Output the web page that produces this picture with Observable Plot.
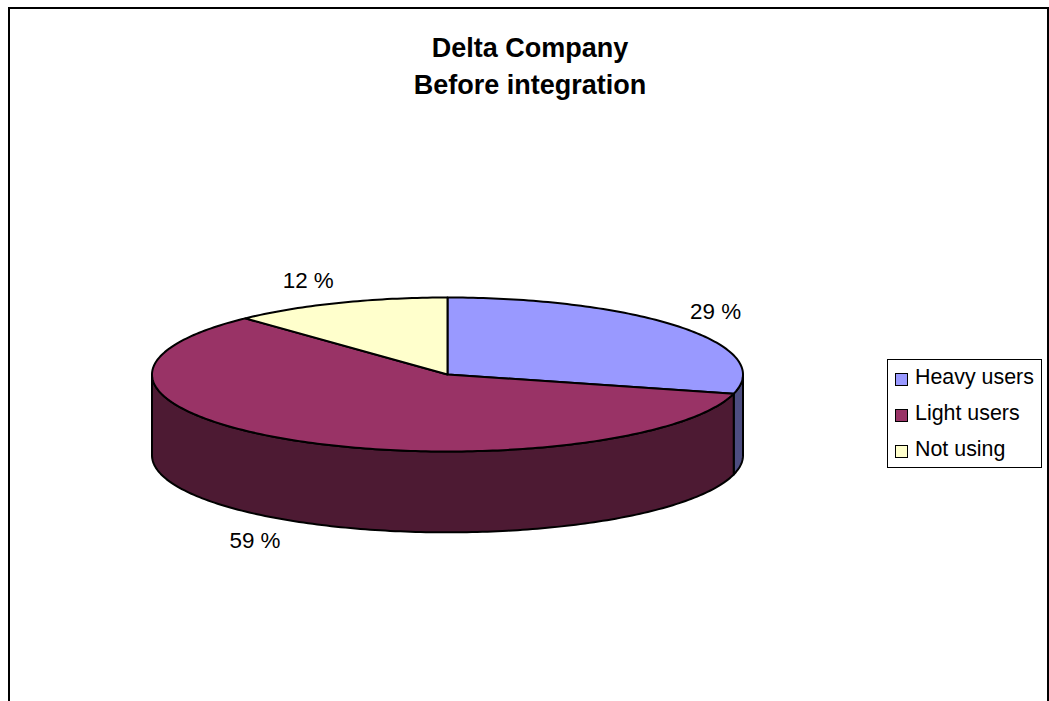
<!DOCTYPE html>
<html>
<head>
<meta charset="utf-8">
<script src="https://cdn.jsdelivr.net/npm/d3@7"></script>
<script src="https://cdn.jsdelivr.net/npm/@observablehq/plot@0.6"></script>
<style>
  html, body { margin: 0; padding: 0; background: #fff; }
  body { font-family: "Liberation Sans", Arial, sans-serif; color: #000; }
  #page { position: relative; width: 1049px; height: 701px; overflow: hidden; }
  #frame { position: absolute; left: 8px; top: 7px; width: 1037px; height: 760px; border: 2px solid #000; }
  #title { position: absolute; left: 9px; width: 1042px; top: 30px; text-align: center; font-weight: bold; font-size: 27px; line-height: 37px; }
  #chart { position: absolute; left: 0; top: 0; }
  #chart svg { display: block; background: transparent; max-width: none; }
  #legend { position: absolute; left: 887px; top: 359px; width: 153px; height: 107px; border: 1.5px solid #000; background: #fff; font-size: 21.4px; }
  .row { position: absolute; left: 7px; height: 36px; display: flex; align-items: center; white-space: nowrap; }
  .sw { width: 11px; height: 11px; border: 1.5px solid #000; margin-right: 7px; flex: none; }
  .lb { position: relative; top: -2px; }
</style>
</head>
<body>
<div id="page">
  <div id="frame"></div>
  <div id="title"></div>
  <div id="chart"></div>
  <div id="legend"></div>
</div>
<script>
const titleLines = ["Delta Company", "Before integration"];
const names = ["Heavy users", "Light users", "Not using"];
const values = [29, 59, 12];
const topColors = ["#9999FF", "#993366", "#FFFFCC"];
const sideColors = ["#4D4D80", "#4D1A33", "#808066"];

const depth = 1.05;
const deg = Math.PI / 180;
const total = d3.sum(values);
let acc = 0;
const slices = names.map((name, i) => {
  const a0 = acc / total * 360; acc += values[i];
  return { name, value: values[i], a0, a1: acc / total * 360, side: sideColors[i] };
});
const px = t => Math.sin(t * deg);
const py = t => Math.cos(t * deg);
const arc = (a, b) => {
  const n = Math.max(1, Math.ceil(Math.abs(b - a)));
  return d3.range(n + 1).map(k => a + (b - a) * k / n);
};

const walls = [];
for (const s of slices) {
  const a = Math.max(s.a0, 90), b = Math.min(s.a1, 270);
  if (b <= a) continue;
  const ts = arc(a, b);
  const ring = [
    ...ts.map(t => ({ x: px(t), y: py(t) })),
    ...ts.slice().reverse().map(t => ({ x: px(t), y: py(t) - depth }))
  ];
  ring.push(ring[0]);
  ring.forEach(p => walls.push({ ...p, name: s.name, side: s.side }));
}

const wedges = [];
for (const s of slices) {
  const ring = [{ x: 0, y: 0 }, ...arc(s.a0, s.a1).map(t => ({ x: px(t), y: py(t) })), { x: 0, y: 0 }];
  ring.forEach(p => wedges.push({ ...p, name: s.name }));
}

const labels = slices.map(s => {
  const m = (s.a0 + s.a1) / 2;
  const lx = Math.max(-0.9, Math.min(0.907, 1.28 * px(m)));
  const front = py(m) < 0 ? depth : 0;
  return { x: lx, y: 1.3 * py(m) - front + 0.012, text: `${s.value} %` };
});

document.getElementById("title").innerHTML = titleLines.map(t => `<div>${t}</div>`).join("");

const chart = Plot.plot({
  width: 1049,
  height: 701,
  margin: 0,
  x: { domain: [-1, 1], range: [151.5, 742.5], axis: null },
  y: { domain: [1, -1], range: [297, 451], axis: null },
  color: { domain: names, range: topColors },
  style: { fontFamily: '"Liberation Sans", Arial, sans-serif', background: "transparent", overflow: "visible" },
  marks: [
    Plot.line(walls, { x: "x", y: "y", z: "name", fill: { value: d => d.side, scale: null }, stroke: "#000", strokeWidth: 2, curve: "linear" }),
    Plot.line(wedges, { x: "x", y: "y", z: "name", fill: "name", stroke: "#000", strokeWidth: 2, curve: "linear" }),
    Plot.text(labels, { x: "x", y: "y", text: "text", fontSize: 22.4, fill: "#000" })
  ]
});
document.getElementById("chart").append(chart);

const legend = document.getElementById("legend");
names.forEach((name, i) => {
  const row = document.createElement("div");
  row.className = "row";
  row.style.top = (1 + i * 36) + "px";
  row.innerHTML = `<span class="sw" style="background:${topColors[i]}"></span><span class="lb">${name}</span>`;
  legend.append(row);
});
</script>
</body>
</html>
